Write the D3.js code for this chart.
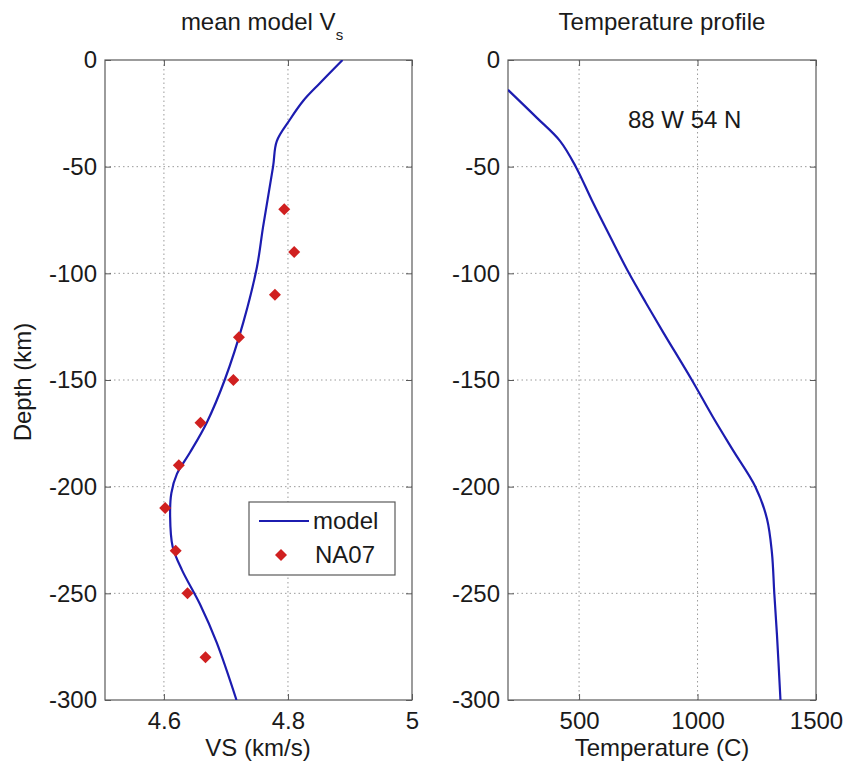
<!DOCTYPE html>
<html>
<head>
<meta charset="utf-8">
<script src="https://cdn.jsdelivr.net/npm/d3@7"></script>
<style>
  html, body { margin: 0; padding: 0; background: #fff; }
  svg { display: block; font-family: "Liberation Sans", Arial, Helvetica, sans-serif; }
</style>
</head>
<body>
<svg id="chart" width="848" height="764"></svg>
<script>
// ---- data ----
const depthTicks = [0, -50, -100, -150, -200, -250, -300];
const vsTicks = [4.6, 4.8, 5];
const tempTicks = [500, 1000, 1500];

const vsModelDepth = [0, -11, -19, -28, -38, -50, -78, -97, -123, -150, -170, -184, -194, -203, -214, -228, -239, -255, -273, -300];
const vsModelVal   = [4.888, 4.851, 4.825, 4.803, 4.782, 4.776, 4.760, 4.750, 4.728, 4.698, 4.669, 4.642, 4.621, 4.612, 4.610, 4.614, 4.629, 4.658, 4.685, 4.717];

const na07Depth = [-70, -90, -110, -130, -150, -170, -190, -210, -230, -250, -280];
const na07Vs    = [4.794, 4.810, 4.779, 4.721, 4.712, 4.659, 4.624, 4.602, 4.619, 4.638, 4.667];

const tempDepth = [-14, -27, -38, -50, -66, -83, -100, -114, -128, -150, -167, -183, -200, -215, -231, -250, -269, -300];
const tempVal   = [200, 321, 420, 486, 555, 632, 711, 783, 857, 976, 1063, 1150, 1244, 1293, 1314, 1324, 1335, 1350];

const titles = ["mean model V", "Temperature profile"];
const xLabels = ["VS (km/s)", "Temperature (C)"];
const yLabel = "Depth (km)";
const legendLabels = ["model", "NA07"];
const annotation = "88 W 54 N";

// ---- layout ----
const svg = d3.select("#chart");
const FONT = 24;
const topY = 60, bottomY = 700;
const lineColor = "#1c1cb0";
const markColor = "#d02020";
const axisColor = "#5a5a5a";
const textColor = "#1a1a1a";

const y = d3.scaleLinear().domain([0, -300]).range([topY, bottomY]);

function panel(x0, x1, xDomain, xTicks) {
  const x = d3.scaleLinear().domain(xDomain).range([x0, x1]);
  const g = svg.append("g");
  // grid
  g.append("g").selectAll("line").data(depthTicks.filter(d => d !== 0 && d !== -300)).join("line")
    .attr("x1", x0).attr("x2", x1).attr("y1", d => y(d)).attr("y2", d => y(d))
    .attr("stroke", "#9a9a9a").attr("stroke-width", 1).attr("stroke-dasharray", "1.5,3");
  g.append("g").selectAll("line").data(xTicks.filter(d => x(d) < x1 - 1 && x(d) > x0 + 1)).join("line")
    .attr("y1", topY).attr("y2", bottomY).attr("x1", d => x(d)).attr("x2", d => x(d))
    .attr("stroke", "#9a9a9a").attr("stroke-width", 1).attr("stroke-dasharray", "1.5,3");
  // axes
  const fmt = d => String(d);
  const yl = g.append("g").attr("transform", `translate(${x0},0)`)
    .call(d3.axisLeft(y).tickValues(depthTicks).tickSizeInner(-6).tickSizeOuter(0).tickPadding(8).tickFormat(fmt));
  const yr = g.append("g").attr("transform", `translate(${x1},0)`)
    .call(d3.axisRight(y).tickValues(depthTicks).tickSizeInner(-6).tickSizeOuter(0).tickFormat(""));
  const xb = g.append("g").attr("transform", `translate(0,${bottomY})`)
    .call(d3.axisBottom(x).tickValues(xTicks).tickSizeInner(-6).tickSizeOuter(0).tickPadding(12).tickFormat(fmt));
  const xt = g.append("g").attr("transform", `translate(0,${topY})`)
    .call(d3.axisTop(x).tickValues(xTicks).tickSizeInner(-6).tickSizeOuter(0).tickFormat(""));
  [yl, yr, xb, xt].forEach(a => {
    a.select(".domain").remove();
    a.selectAll("line").attr("stroke", axisColor);
    a.selectAll("text").attr("fill", textColor).style("font-size", FONT + "px").style("font-family", "Liberation Sans, Arial, sans-serif");
  });
  g.append("rect").attr("x", x0).attr("y", topY).attr("width", x1 - x0).attr("height", bottomY - topY)
    .attr("fill", "none").attr("stroke", axisColor).attr("stroke-width", 1.2);
  return { x, g };
}

// left panel
const L = panel(105, 412, [4.505, 5.0], vsTicks);
svg.append("clipPath").attr("id", "clipL").append("rect")
  .attr("x", 105).attr("y", topY).attr("width", 307).attr("height", bottomY - topY);
const lineL = d3.line().x(d => L.x(d[1])).y(d => y(d[0])).curve(d3.curveCatmullRom.alpha(0.5));
svg.append("path").datum(vsModelDepth.map((d, i) => [d, vsModelVal[i]]))
  .attr("clip-path", "url(#clipL)")
  .attr("d", lineL).attr("fill", "none").attr("stroke", lineColor).attr("stroke-width", 2.2);
const marker = d3.symbol().type(d3.symbolSquare).size(72);
svg.append("g").selectAll("path").data(na07Depth.map((d, i) => [d, na07Vs[i]])).join("path")
  .attr("transform", d => `translate(${L.x(d[1])},${y(d[0])}) rotate(45)`)
  .attr("d", marker).attr("fill", markColor);

// right panel
const R = panel(508, 816, [200, 1500], tempTicks);
svg.append("clipPath").attr("id", "clipR").append("rect")
  .attr("x", 508).attr("y", topY).attr("width", 308).attr("height", bottomY - topY);
const lineR = d3.line().x(d => R.x(d[1])).y(d => y(d[0])).curve(d3.curveCatmullRom.alpha(0.5));
svg.append("path").datum(tempDepth.map((d, i) => [d, tempVal[i]]))
  .attr("clip-path", "url(#clipR)")
  .attr("d", lineR).attr("fill", "none").attr("stroke", lineColor).attr("stroke-width", 2.2);

// titles
const t1 = svg.append("text").attr("x", 262).attr("y", 30).attr("text-anchor", "middle")
  .attr("fill", textColor).style("font-size", FONT + "px");
t1.append("tspan").text(titles[0]);
t1.append("tspan").attr("dy", 10).style("font-size", "15px").text("s");
svg.append("text").attr("x", 662).attr("y", 30).attr("text-anchor", "middle")
  .attr("fill", textColor).style("font-size", FONT + "px").text(titles[1]);

// axis labels
svg.append("text").attr("x", 258).attr("y", 756).attr("text-anchor", "middle")
  .attr("fill", textColor).style("font-size", FONT + "px").text(xLabels[0]);
svg.append("text").attr("x", 662).attr("y", 756).attr("text-anchor", "middle")
  .attr("fill", textColor).style("font-size", FONT + "px").text(xLabels[1]);
svg.append("text").attr("transform", "translate(31,382) rotate(-90)").attr("text-anchor", "middle")
  .attr("fill", textColor).style("font-size", FONT + "px").text(yLabel);

// annotation
svg.append("text").attr("x", 628).attr("y", 128)
  .attr("fill", textColor).style("font-size", FONT + "px").text(annotation);

// legend
const lg = svg.append("g");
lg.append("rect").attr("x", 249).attr("y", 502).attr("width", 146).attr("height", 73)
  .attr("fill", "#fff").attr("stroke", axisColor).attr("stroke-width", 1.2);
lg.append("line").attr("x1", 259).attr("x2", 309).attr("y1", 521).attr("y2", 521)
  .attr("stroke", lineColor).attr("stroke-width", 2.2);
lg.append("text").attr("x", 313).attr("y", 529).attr("fill", textColor).style("font-size", FONT + "px").text(legendLabels[0]);
lg.append("path").attr("transform", "translate(281,555) rotate(45)").attr("d", marker).attr("fill", markColor);
lg.append("text").attr("x", 315).attr("y", 563).attr("fill", textColor).style("font-size", FONT + "px").text(legendLabels[1]);
</script>
</body>
</html>
